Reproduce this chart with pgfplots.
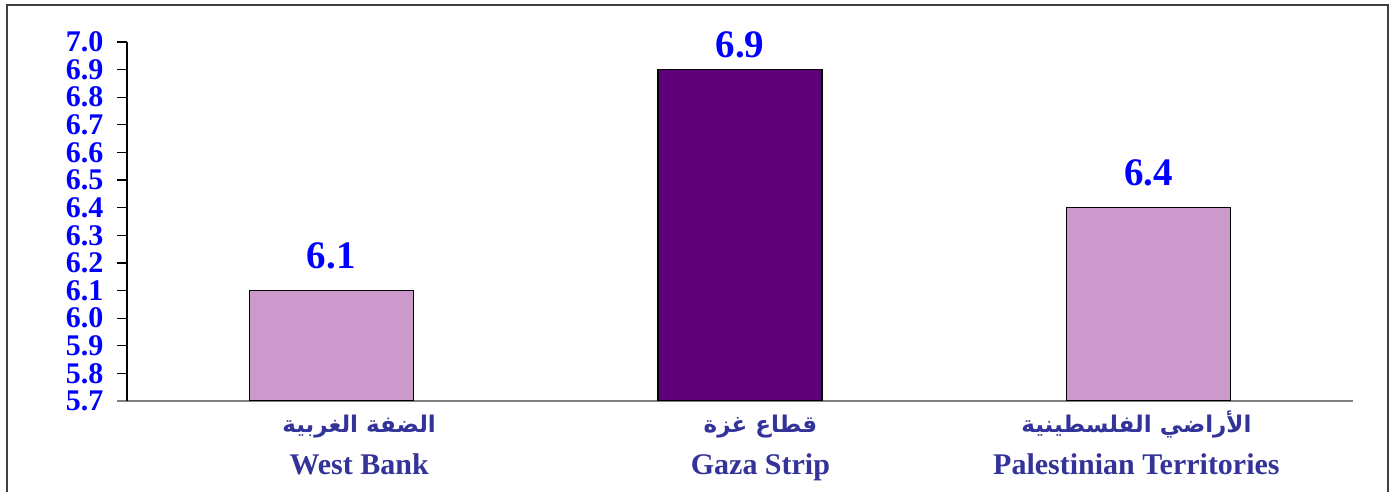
\documentclass[border=0pt]{standalone}
\usepackage{fontspec}
\usepackage{pgfplots}
\pgfplotsset{compat=1.18}
\setmainfont{Liberation Serif}
\TeXXeTstate=1
\newfontfamily\arabicfont[Script=Arabic]{DejaVu Sans}
\definecolor{lightpurple}{HTML}{CC99CC}
\definecolor{darkpurple}{HTML}{5F0079}
\definecolor{labelblue}{HTML}{333399}
\definecolor{framegray}{HTML}{404040}
\newcommand{\arf}{\rule{0pt}{27pt}\arabicfont\fontsize{23}{42}\selectfont\bfseries}
\begin{document}
\begin{tikzpicture}
\path[use as bounding box] (0,0) rectangle (1399pt,492pt);
\begin{axis}[
  at={(127pt,91pt)}, anchor=south west,
  scale only axis, width=1226pt, height=359pt,
  xmin=-0.5, xmax=2.5, ymin=5.7, ymax=7.0,
  ybar, bar width=164pt, bar shift=0pt,
  axis x line=bottom, axis y line=left,
  x axis line style={-, draw=gray, line width=1.5pt, shorten <=-10pt},
  y axis line style={-, draw=black, line width=1.2pt},
  tick align=outside, major tick length=10pt,
  ytick={5.7,5.8,5.9,6.0,6.1,6.2,6.3,6.4,6.5,6.6,6.7,6.8,6.9,7.0},
  yticklabel style={font=\fontsize{30}{30}\selectfont\bfseries, text=blue, xshift=-10pt,
    /pgf/number format/fixed, /pgf/number format/fixed zerofill, /pgf/number format/precision=1, /pgf/number format/assume math mode=true},
  major y tick style={draw=black, line width=1.2pt},
  xtick={0.068,1.05,1.97},
  xticklabels={
    {{\arf\beginR الضفة الغربية\endR}\\West Bank},
    {{\arf\beginR قطاع غزة\endR}\\Gaza Strip},
    {{\arf\beginR الأراضي الفلسطينية\endR}\\Palestinian Territories}},
  major x tick style={draw=none},
  xticklabel style={font=\fontsize{30}{42}\selectfont\bfseries, text=labelblue, align=center,
    anchor=north, inner sep=0pt, yshift=6pt},
  nodes near coords,
  nodes near coords style={font=\fontsize{39}{39}\selectfont\bfseries, text=blue, anchor=south,
    inner sep=0pt, /pgf/number format/fixed, /pgf/number format/fixed zerofill, /pgf/number format/precision=1, /pgf/number format/assume math mode=true},
]
\addplot[fill=lightpurple, draw=black, line width=1.5pt, nodes near coords style={yshift=21pt}]
  coordinates {(0,6.1)};
\addplot[fill=darkpurple, draw=black, line width=1.5pt, nodes near coords style={yshift=11pt}]
  coordinates {(1,6.9)};
\addplot[fill=lightpurple, draw=black, line width=1.5pt, nodes near coords style={yshift=21pt}]
  coordinates {(2,6.4)};
\end{axis}
\draw[framegray, line width=2.5pt] (7pt,-5pt) -- (7pt,487pt) -- (1388pt,487pt) -- (1388pt,-5pt);
\end{tikzpicture}
\end{document}
